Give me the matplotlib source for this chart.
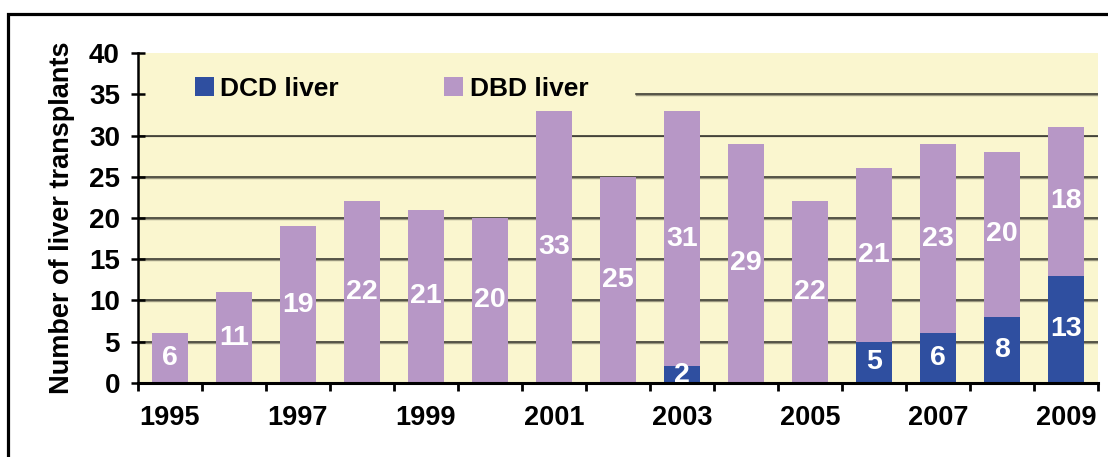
import numpy as np
import matplotlib
matplotlib.use("Agg")
import matplotlib.pyplot as plt
from matplotlib.patches import Rectangle

plt.rcParams['font.family'] = ['Liberation Sans', 'DejaVu Sans']
plt.rcParams['font.weight'] = 'bold'

years = [1995, 1996, 1997, 1998, 1999, 2000, 2001, 2002,
         2003, 2004, 2005, 2006, 2007, 2008, 2009]
dcd = [0, 0, 0, 0, 0, 0, 0, 0, 2, 0, 0, 5, 6, 8, 13]
dbd = [6, 11, 19, 22, 21, 20, 33, 25, 31, 29, 22, 21, 23, 20, 18]
year_labels = ['1995', '', '1997', '', '1999', '', '2001', '',
               '2003', '', '2005', '', '2007', '', '2009']

dcd_color = '#2f4fa0'
dbd_color = '#b797c6'
bg_color = '#faf6cf'

fig = plt.figure(figsize=(11.08, 4.57), dpi=100)
ax = fig.add_axes([0.1245, 0.162, 0.8665, 0.722])
ax.set_facecolor(bg_color)

x = np.arange(len(years))
ax.bar(x, dcd, width=0.56, color=dcd_color, zorder=2, label='DCD liver')
ax.bar(x, dbd, width=0.56, bottom=dcd, color=dbd_color, zorder=2, label='DBD liver')

# gridlines (35 line hidden behind legend on the left)
for y in range(5, 40, 5):
    xmin = 0.519 if y == 35 else 0
    ax.axhline(y - 0.12, xmin=xmin, color='#9a977e', lw=1.0, zorder=1)
    ax.axhline(y, xmin=xmin, color='#2a2a24', lw=1.1, zorder=1)

# value labels
for i in range(len(years)):
    if dcd[i] > 0:
        ax.text(x[i], dcd[i] / 2, str(dcd[i]), ha='center', va='center',
                color='white', fontsize=20.5, fontweight='bold', zorder=3)
    ax.text(x[i], dcd[i] + dbd[i] / 2, str(dbd[i]), ha='center', va='center',
            color='white', fontsize=20.5, fontweight='bold', zorder=3)

ax.set_xlim(-0.5, len(years) - 0.5)
ax.set_ylim(0, 40)
ax.set_yticks(range(0, 45, 5))
ax.tick_params(axis='y', direction='inout', length=10, width=1.8,
               labelsize=20, pad=8)

ax.set_xticks(np.arange(-0.5, len(years), 1))
ax.set_xticklabels([])
ax.tick_params(axis='x', which='major', direction='out', length=6, width=2)
ax.set_xticks(x, minor=True)
ax.set_xticklabels(year_labels, minor=True)
ax.tick_params(axis='x', which='minor', length=0, labelsize=19.5, pad=16)

for s in ['top', 'right']:
    ax.spines[s].set_visible(False)
ax.spines['left'].set_linewidth(1.8)
ax.spines['bottom'].set_linewidth(2.2)

ax.set_ylabel('Number of liver transplants', fontsize=19.5, fontweight='bold')
ax.yaxis.set_label_coords(-0.066, 0.5)

ax.legend(ncol=2, loc='center left', bbox_to_anchor=(0.059, 0.891),
          frameon=False, fontsize=19, handlelength=0.72, handleheight=0.72,
          handletextpad=0.25, columnspacing=4.0, borderpad=0, borderaxespad=0)

# outer frame
fig.patches.append(Rectangle((0.0068, -0.1), 1.2, 1.0694, transform=fig.transFigure,
                             fill=False, edgecolor='black', lw=2.3))

fig.savefig('out.png', dpi=100)
